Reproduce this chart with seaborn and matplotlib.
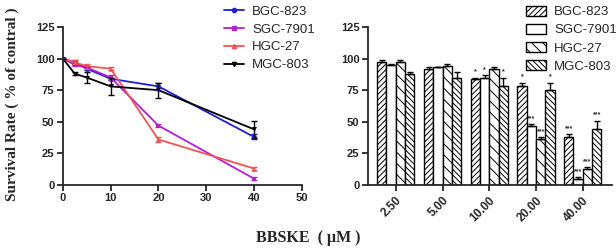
import numpy as np
import pandas as pd
import matplotlib
matplotlib.use("Agg")
import matplotlib.pyplot as plt
import seaborn as sns

# concentrations (uM) and survival rate (% of control)
conc = [0, 2.5, 5, 10, 20, 40]
cells = ['BGC-823', 'SGC-7901', 'HGC-27', 'MGC-803']
bgc = [100, 97, 92, 84, 78, 38]
sgc = [100, 95, 93, 85, 47, 5]
hgc = [100, 97, 94, 92, 36, 13]
mgc = [100, 88, 85, 78, 75, 44]
bgc_err = [0, 2, 1, 1, 3, 2]
sgc_err = [0, 0.5, 0.5, 2, 1.5, 1]
hgc_err = [0, 1.5, 2, 1, 2, 1]
mgc_err = [0, 1, 4, 7, 6, 7]
bar_labels = ['2.50', '5.00', '10.00', '20.00', '40.00']
bgc_sig = ['', '', '*', '*', '***']
sgc_sig = ['', '', '*', '***', '***']
hgc_sig = ['', '', '', '***', '***']
mgc_sig = ['', '', '*', '*', '***']

colors = {'BGC-823': '#1f1fd6', 'SGC-7901': '#b41fd0', 'HGC-27': '#f05555', 'MGC-803': 'black'}
markers = {'BGC-823': 'o', 'SGC-7901': 's', 'HGC-27': '^', 'MGC-803': 'v'}
hatches = {'BGC-823': '//////', 'SGC-7901': '', 'HGC-27': '\\\\\\', 'MGC-803': '\\\\\\\\\\\\'}

vals = dict(zip(cells, [bgc, sgc, hgc, mgc]))
errs = dict(zip(cells, [bgc_err, sgc_err, hgc_err, mgc_err]))
sigs = dict(zip(cells, [bgc_sig, sgc_sig, hgc_sig, mgc_sig]))

rows = []
for c in cells:
    for x, v in zip(conc, vals[c]):
        rows.append({'conc': x, 'rate': v, 'cell': c})
df = pd.DataFrame(rows)

bar_df = df[df['conc'] > 0].copy()
bar_df['label'] = bar_df['conc'].map(dict(zip(conc[1:], bar_labels)))

sns.set_style("ticks")
plt.rcParams['font.family'] = ['Liberation Sans', 'DejaVu Sans']
plt.rcParams['hatch.linewidth'] = 0.7

fig = plt.figure(figsize=(6.16, 2.52), dpi=100)
ax1 = fig.add_axes([0.102, 0.266, 0.388, 0.627])
ax2 = fig.add_axes([0.597, 0.266, 0.396, 0.627])

# line chart
sns.lineplot(data=df, x='conc', y='rate', hue='cell', hue_order=cells, palette=colors,
             style='cell', markers=markers, dashes=False, markersize=3.5,
             markeredgewidth=0, linewidth=1.3, ax=ax1, legend=False)
for c in cells:
    ax1.errorbar(conc, vals[c], yerr=errs[c], fmt='none', ecolor=colors[c],
                 elinewidth=1, capsize=2, capthick=1)
ax1.set_xlim(0, 50)
ax1.set_ylim(0, 125)
ax1.set_xticks(range(0, 51, 10))
ax1.set_yticks(range(0, 126, 25))
ax1.set_xlabel('')
ax1.set_ylabel('')
handles = [plt.Line2D([], [], color=colors[c], marker=markers[c], markersize=3,
                      lw=1.3) for c in cells]
fig.legend(handles, cells, loc='upper left', bbox_to_anchor=(0.345, 1.025),
           frameon=False, fontsize=9.5, handlelength=1.5, labelspacing=0.42,
           handletextpad=0.6)

# bar chart
sns.barplot(data=bar_df, x='label', y='rate', hue='cell', hue_order=cells,
            order=bar_labels, palette={c: 'white' for c in cells}, edgecolor='black',
            linewidth=1, errorbar=None, ax=ax2, legend=False, width=0.8)
for c, cont in zip(cells, ax2.containers):
    xs = [p.get_x() + p.get_width() / 2 for p in cont.patches]
    for p in cont.patches:
        p.set_hatch(hatches[c])
    ax2.errorbar(xs, vals[c][1:], yerr=[[0] * 5, errs[c][1:]], fmt='none',
                 ecolor='black', elinewidth=1, capsize=2, capthick=1)
    for x, v, e, s in zip(xs, vals[c][1:], errs[c][1:], sigs[c]):
        if s:
            ax2.text(x, v + e + 1.5, s, ha='center', va='bottom', fontsize=5,
                     fontweight='bold')
ax2.set_ylim(0, 125)
ax2.set_xlim(-0.6, 4.62)
ax2.set_yticks(range(0, 126, 25))
ax2.set_xlabel('')
ax2.set_ylabel('')
ax2.set_xticks(range(5))
ax2.set_xticklabels(bar_labels, rotation=45, ha='right', rotation_mode='anchor')
bhandles = [matplotlib.patches.Patch(facecolor='white', edgecolor='black',
                                     hatch=hatches[c], lw=1) for c in cells]
fig.legend(bhandles, cells, loc='upper left', bbox_to_anchor=(0.835, 1.025),
           frameon=False, fontsize=9.5, handlelength=1.5, handleheight=0.8,
           labelspacing=0.42, handletextpad=0.6)

for ax in (ax1, ax2):
    sns.despine(ax=ax)
    for s in ('left', 'bottom'):
        ax.spines[s].set_linewidth(1.3)
    ax.tick_params(width=1.3, length=4, labelsize=8, pad=2)
    for t in ax.get_xticklabels() + ax.get_yticklabels():
        t.set_fontweight('bold')
ax2.tick_params(axis='x', labelsize=8.5, pad=3)

fig.text(0.02, 0.585, 'Survival Rate ( % of contral )', rotation=90, ha='center',
         va='center', fontsize=11, fontweight='bold', family='Liberation Serif')
fig.text(0.5, 0.055, 'BBSKE  ( μM )', ha='center', va='center', fontsize=11.5,
         fontweight='bold', family='Liberation Serif')

fig.savefig('out.png', dpi=100)
